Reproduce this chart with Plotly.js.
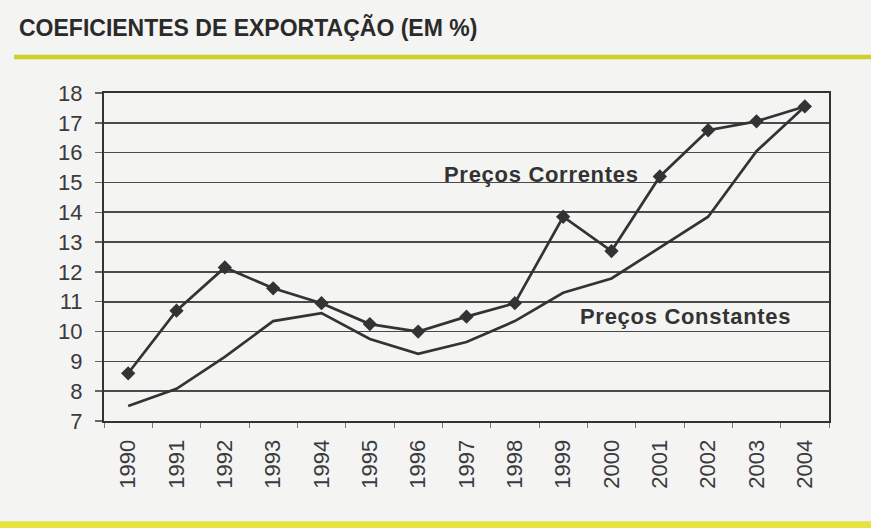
<!DOCTYPE html>
<html>
<head>
<meta charset="utf-8">
<script src="https://cdn.plot.ly/plotly-3.0.1.min.js"></script>
<style>
  html, body { margin: 0; padding: 0; background: #f4f4f2; }
  #chart { width: 871px; height: 528px; }
  .annotation-text { letter-spacing: 0.7px; }
</style>
</head>
<body>
<div id="chart"></div>
<script>
// ---- data ----
var years = ['1990','1991','1992','1993','1994','1995','1996','1997','1998','1999','2000','2001','2002','2003','2004'];
var precosCorrentes  = [8.6, 10.7, 12.15, 11.45, 10.95, 10.25, 10.0, 10.5, 10.95, 13.85, 12.7, 15.2, 16.75, 17.05, 17.55];
var precosConstantes = [7.5, 8.08, 9.15, 10.35, 10.62, 9.75, 9.25, 9.65, 10.35, 11.3, 11.78, 12.8, 13.85, 16.05, 17.55];
var yTicks = [7, 8, 9, 10, 11, 12, 13, 14, 15, 16, 17, 18];
var titleText = 'COEFICIENTES DE EXPORTAÇÃO (EM %)';
var labelCorrentes = 'Preços Correntes';
var labelConstantes = 'Preços Constantes';

var FONT = 'Liberation Sans, Arial, Helvetica, sans-serif';
var INK = '#333333';

var traces = [
  {
    x: years, y: precosConstantes, type: 'scatter', mode: 'lines',
    line: { color: INK, width: 2.7 },
    name: labelConstantes, hoverinfo: 'x+y'
  },
  {
    x: years, y: precosCorrentes, type: 'scatter', mode: 'lines+markers',
    line: { color: INK, width: 2.7 },
    marker: { symbol: 'diamond', size: 11, color: INK },
    name: labelCorrentes, hoverinfo: 'x+y'
  }
];

var layout = {
  width: 871, height: 528,
  margin: { l: 104, r: 42, t: 93, b: 107 },
  paper_bgcolor: '#f4f4f2',
  plot_bgcolor: '#f4f4f2',
  showlegend: false,
  font: { family: FONT, color: '#3a3a40' },
  title: {
    text: titleText,
    font: { family: FONT, size: 23, weight: 700, color: '#2a2a2a' },
    xref: 'container', x: 19 / 871, xanchor: 'left',
    yref: 'container', y: 1 - 28 / 528, yanchor: 'middle'
  },
  xaxis: {
    type: 'category',
    categoryorder: 'array', categoryarray: years,
    range: [-0.5, years.length - 0.5],
    showgrid: false, zeroline: false,
    showline: true, mirror: true, linecolor: '#333', linewidth: 2,
    ticks: 'outside', tickson: 'boundaries', ticklen: 5, tickwidth: 1, tickcolor: '#777',
    tickangle: -90,
    ticklabelstandoff: 8,
    tickfont: { family: FONT, size: 22, color: '#3a3a40' },
    fixedrange: true
  },
  yaxis: {
    range: [7, 18],
    tickvals: yTicks,
    showgrid: true, gridcolor: '#4a4a4a', gridwidth: 1.6,
    zeroline: false,
    showline: true, mirror: true, linecolor: '#333', linewidth: 2,
    ticks: 'outside', ticklen: 7, tickwidth: 1.5, tickcolor: '#666',
    ticklabelstandoff: 8,
    tickfont: { family: FONT, size: 22, color: '#3a3a40' },
    fixedrange: true
  },
  shapes: [
    { type: 'line', xref: 'paper', yref: 'paper',
      x0: -0.124, x1: 1.06, y0: 1.1098, y1: 1.1098,
      line: { color: '#cdd02c', width: 4.5 } },
    { type: 'line', xref: 'paper', yref: 'paper',
      x0: -0.15, x1: 1.06, y0: -0.316, y1: -0.316,
      line: { color: '#e4e33f', width: 7 } }
  ],
  annotations: [
    { text: labelCorrentes, xref: 'paper', yref: 'paper', x: 0.6034, y: 0.752,
      xanchor: 'center', yanchor: 'middle', showarrow: false,
      font: { family: FONT, size: 22, weight: 700, color: '#333' } },
    { text: labelConstantes, xref: 'paper', yref: 'paper', x: 0.8014, y: 0.318,
      xanchor: 'center', yanchor: 'middle', showarrow: false,
      font: { family: FONT, size: 22, weight: 700, color: '#333' } }
  ]
};

Plotly.newPlot('chart', traces, layout, { displayModeBar: false, staticPlot: true });
</script>
</body>
</html>
